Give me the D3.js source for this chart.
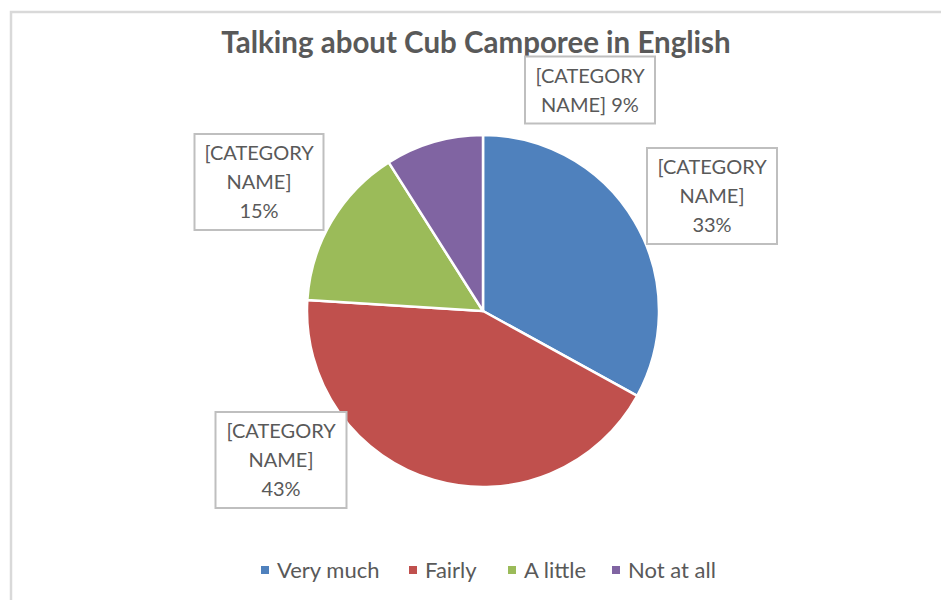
<!DOCTYPE html>
<html>
<head>
<meta charset="utf-8">
<script src="https://cdn.jsdelivr.net/npm/d3@7"></script>
<style>
  html, body { margin: 0; padding: 0; background: #fff; }
  svg { display: block; }
</style>
</head>
<body>
<svg id="chart" width="941" height="600"></svg>
<script>
// Survey answers and their shares (percent)
const categories = ["Very much", "Fairly", "A little", "Not at all"];
const values = [33, 43, 15, 9];
const colors = ["#4F81BD", "#C0504D", "#9BBB59", "#8064A2"];
const chartTitle = "Talking about Cub Camporee in English";

const svg = d3.select("#chart");
const FONT = "Lato, 'Open Sans', sans-serif";
const TEXT = "#595959";

// Chart area frame
svg.append("rect")
  .attr("x", 11).attr("y", 12)
  .attr("width", 960).attr("height", 620)
  .attr("fill", "#fff")
  .attr("stroke", "#d9d9d9").attr("stroke-width", 2.5);

// Title
svg.append("text")
  .attr("x", 476).attr("y", 53)
  .attr("text-anchor", "middle")
  .attr("font-family", FONT)
  .attr("font-weight", "bold")
  .attr("font-size", 29.5)
  .attr("fill", TEXT)
  .text(chartTitle);

// Pie
const cx = 483, cy = 311, radius = 176;
const pie = d3.pie().sort(null).value(d => d.value);
const arc = d3.arc().innerRadius(0).outerRadius(radius);
const color = d3.scaleOrdinal().domain(categories).range(colors);
const data = categories.map((c, i) => ({ name: c, value: values[i] }));
const arcs = pie(data);

const g = svg.append("g").attr("transform", `translate(${cx},${cy})`);
g.selectAll("path")
  .data(arcs)
  .join("path")
  .attr("d", arc)
  .attr("fill", d => color(d.data.name))
  .attr("stroke", "#fff")
  .attr("stroke-width", 2.5)
  .attr("stroke-linejoin", "round");

// Data label boxes (outside end): box centre, size and line breaks per slice;
// "{p}" is replaced by the slice percentage
const labelLayout = {
  "Very much": { x: 712, y: 196, w: 130, h: 96, lines: ["[CATEGORY", "NAME]", "{p}"] },
  "Fairly":    { x: 281, y: 460, w: 131, h: 96, lines: ["[CATEGORY", "NAME]", "{p}"] },
  "A little":  { x: 259, y: 182, w: 129, h: 96, lines: ["[CATEGORY", "NAME]", "{p}"] },
  "Not at all":{ x: 590, y: 90,  w: 130, h: 67, lines: ["[CATEGORY", "NAME] {p}"] }
};
const pct = d3.format(".0%");
const total = d3.sum(values);
const lineH = 29;

arcs.forEach(a => {
  const L = labelLayout[a.data.name];
  const p = pct(a.data.value / total);
  const lines = L.lines.map(s => s.replace("{p}", p));
  const box = svg.append("g").attr("transform", `translate(${L.x},${L.y})`);
  box.append("rect")
    .attr("x", -L.w / 2).attr("y", -L.h / 2)
    .attr("width", L.w).attr("height", L.h)
    .attr("fill", "#fff")
    .attr("stroke", "#bfbfbf").attr("stroke-width", 2);
  const n = lines.length;
  lines.forEach((s, i) => {
    box.append("text")
      .attr("x", 0)
      .attr("y", (i - (n - 1) / 2) * lineH)
      .attr("dy", "0.36em")
      .attr("text-anchor", "middle")
      .attr("font-family", FONT)
      .attr("font-size", 20)
      .attr("fill", TEXT)
      .text(s);
  });
});

// Legend
const legendX = [261, 409, 508, 612];
const legendY = 570;
const legend = svg.append("g");
categories.forEach((c, i) => {
  legend.append("rect")
    .attr("x", legendX[i]).attr("y", legendY - 4)
    .attr("width", 8).attr("height", 8)
    .attr("fill", color(c));
  legend.append("text")
    .attr("x", legendX[i] + 16).attr("y", legendY)
    .attr("dy", "0.36em")
    .attr("font-family", FONT)
    .attr("font-size", 22)
    .attr("fill", TEXT)
    .text(c);
});
</script>
</body>
</html>
